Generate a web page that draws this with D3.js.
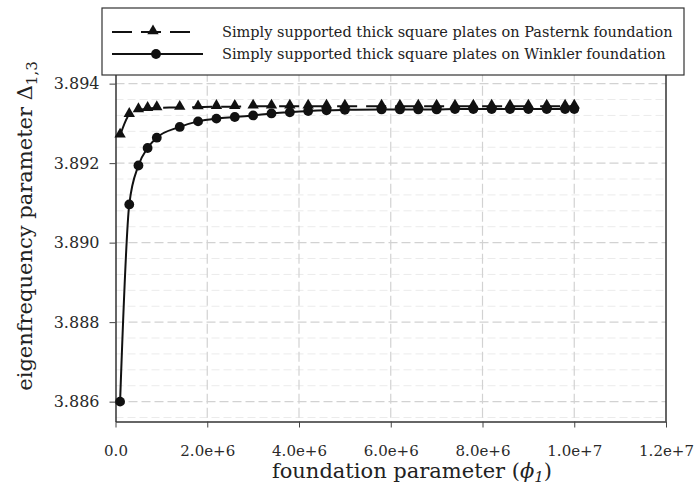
<!DOCTYPE html>
<html>
<head>
<meta charset="utf-8">
<script src="https://cdn.jsdelivr.net/npm/d3@7"></script>
<style>
  body { margin: 0; background: #fff; }
  svg text { font-family: "DejaVu Serif", serif; fill: #222; }
</style>
</head>
<body>
<script>
// foundation parameter values (x) shared by both series
const phiValues = [1e5, 3e5, 5e5, 7e5, 9e5, 1.4e6, 1.8e6, 2.2e6, 2.6e6, 3.0e6, 3.4e6, 3.8e6, 4.2e6,
  4.6e6, 5.0e6, 5.8e6, 6.2e6, 6.6e6, 7.0e6, 7.4e6, 7.8e6, 8.2e6, 8.6e6, 9.0e6, 9.4e6, 9.8e6, 1.0e7];

const pasternak = [3.89270, 3.89322, 3.89334, 3.89337, 3.89339, 3.89340, 3.89341, 3.89342, 3.89342,
  3.89343, 3.89343, 3.89343, 3.89343, 3.89343, 3.89343, 3.89343, 3.89343, 3.89343, 3.89343, 3.89343,
  3.89343, 3.89343, 3.89343, 3.89343, 3.89343, 3.89343, 3.89343];

const winkler = [3.88600, 3.89096, 3.89194, 3.89238, 3.89264, 3.89291, 3.89305, 3.89312, 3.89316,
  3.89320, 3.89325, 3.89328, 3.89331, 3.89333, 3.89334, 3.89335, 3.89335, 3.89335, 3.89335, 3.89336,
  3.89336, 3.89336, 3.89336, 3.89336, 3.89336, 3.89336, 3.89336];

const xTicks = [0, 2e6, 4e6, 6e6, 8e6, 1e7, 1.2e7];
const xTickLabels = ['0.0', '2.0e+6', '4.0e+6', '6.0e+6', '8.0e+6', '1.0e+7', '1.2e+7'];
const yTicks = [3.886, 3.888, 3.890, 3.892, 3.894];
const legendLabels = ['Simply supported thick square plates on Pasternk foundation',
  'Simply supported thick square plates on Winkler foundation'];

var width = 694, height = 490;
var plot = { left: 115.5, right: 666, top: 71.7, bottom: 421.5 };

var svg = d3.select('body').append('svg')
  .attr('width', width)
  .attr('height', height);

var x = d3.scaleLinear().domain([0, 1.2e7]).range([plot.left, plot.right]);
var y = d3.scaleLinear().domain([3.8855, 3.8943]).range([plot.bottom, plot.top]);

// minor horizontal grid every 0.0004
var minor = d3.range(3.8856, 3.8942, 0.0004).filter(function(v) {
  return Math.abs(v * 500 - Math.round(v * 500)) > 1e-6;
});
svg.append('g').selectAll('line')
  .data(minor).enter().append('line')
  .attr('x1', plot.left).attr('x2', plot.right)
  .attr('y1', function(d) { return y(d); }).attr('y2', function(d) { return y(d); })
  .attr('stroke', '#ebebeb').attr('stroke-width', 1).attr('stroke-dasharray', '8,4');

// major grid
svg.append('g').selectAll('line')
  .data(yTicks).enter().append('line')
  .attr('x1', plot.left).attr('x2', plot.right)
  .attr('y1', function(d) { return y(d); }).attr('y2', function(d) { return y(d); })
  .attr('stroke', '#d2d2d2').attr('stroke-width', 1.2).attr('stroke-dasharray', '9,4');

svg.append('g').selectAll('line')
  .data(xTicks.slice(1, -1)).enter().append('line')
  .attr('y1', plot.top).attr('y2', plot.bottom)
  .attr('x1', function(d) { return x(d); }).attr('x2', function(d) { return x(d); })
  .attr('stroke', '#d2d2d2').attr('stroke-width', 1.2).attr('stroke-dasharray', '10,4');

// axes
var xAxis = svg.append('g')
  .attr('transform', 'translate(0,' + plot.bottom + ')')
  .call(d3.axisBottom(x).tickValues(xTicks).tickSize(6).tickSizeOuter(0)
    .tickFormat(function(d, i) { return xTickLabels[i]; }));
xAxis.selectAll('text').style('font-size', '15px').attr('dy', '1.7em').style('fill', '#2a2a2a');

var yAxis = svg.append('g')
  .attr('transform', 'translate(' + plot.left + ',0)')
  .call(d3.axisLeft(y).tickValues(yTicks).tickSize(6).tickSizeOuter(0)
    .tickFormat(d3.format('.3f')));
yAxis.selectAll('text').style('font-size', '16px').attr('x', -16).style('fill', '#2a2a2a');

svg.selectAll('.domain').attr('stroke', '#333').attr('stroke-width', 1.5);
svg.selectAll('.tick line').attr('stroke', '#444');

svg.append('line')
  .attr('x1', plot.right).attr('x2', plot.right)
  .attr('y1', plot.top).attr('y2', plot.bottom)
  .attr('stroke', '#333').attr('stroke-width', 1.5);
svg.append('line')
  .attr('x1', plot.left).attr('x2', plot.right)
  .attr('y1', plot.top).attr('y2', plot.top)
  .attr('stroke', '#333').attr('stroke-width', 1.5);

// series
var pasternakData = phiValues.map(function(v, i) { return [v, pasternak[i]]; });
var winklerData = phiValues.map(function(v, i) { return [v, winkler[i]]; });

var line = d3.line()
  .x(function(d) { return x(d[0]); })
  .y(function(d) { return y(d[1]); })
  .curve(d3.curveMonotoneX);

svg.append('path').datum(winklerData)
  .attr('d', line).attr('fill', 'none')
  .attr('stroke', '#111').attr('stroke-width', 2);

svg.append('path').datum(pasternakData)
  .attr('d', line).attr('fill', 'none')
  .attr('stroke', '#111').attr('stroke-width', 2).attr('stroke-dasharray', '20,9');

var tri = d3.symbol().type(d3.symbolTriangle).size(56);

svg.append('g').selectAll('path')
  .data(pasternakData).enter().append('path')
  .attr('d', tri)
  .attr('transform', function(d) { return 'translate(' + x(d[0]) + ',' + (y(d[1]) - 1) + ')'; })
  .attr('fill', '#111');

svg.append('g').selectAll('circle')
  .data(winklerData).enter().append('circle')
  .attr('cx', function(d) { return x(d[0]); })
  .attr('cy', function(d) { return y(d[1]); })
  .attr('r', 4.9)
  .attr('fill', '#111');

// axis titles
var xTitle = svg.append('text')
  .attr('x', 412).attr('y', 478)
  .attr('text-anchor', 'middle')
  .style('font-size', '21px');
xTitle.append('tspan').text('foundation parameter (');
xTitle.append('tspan').style('font-style', 'italic').text('ϕ');
xTitle.append('tspan').style('font-style', 'italic').style('font-size', '15px').attr('dy', 4).text('1');
xTitle.append('tspan').attr('dy', -4).text(')');

var yTitle = svg.append('text')
  .attr('transform', 'translate(32,226) rotate(-90)')
  .attr('text-anchor', 'middle')
  .style('font-size', '21px');
yTitle.append('tspan').text('eigenfrequency parameter Δ');
yTitle.append('tspan').style('font-size', '15px').attr('dy', 5).text('1,3');

// legend
var legend = svg.append('g');
legend.append('rect')
  .attr('x', 102).attr('y', 8).attr('width', 582).attr('height', 67)
  .attr('fill', '#fff').attr('stroke', '#333').attr('stroke-width', 1.2);

var rows = legend.selectAll('.legend-row')
  .data(legendLabels).enter().append('g')
  .attr('class', 'legend-row')
  .attr('transform', function(d, i) { return 'translate(0,' + (32 + i * 22) + ')'; });

rows.append('line')
  .attr('x1', 112).attr('x2', function(d, i) { return i === 0 ? 193 : 203; })
  .attr('y1', 0).attr('y2', 0)
  .attr('stroke', '#111').attr('stroke-width', 2.2)
  .attr('stroke-dasharray', function(d, i) { return i === 0 ? '20,9' : null; });

rows.filter(function(d, i) { return i === 0; }).append('path')
  .attr('d', tri).attr('transform', 'translate(153,-1)').attr('fill', '#111');
rows.filter(function(d, i) { return i === 1; }).append('circle')
  .attr('cx', 156).attr('cy', 0).attr('r', 4.9).attr('fill', '#111');

rows.append('text')
  .attr('x', 222).attr('y', 5)
  .style('font-size', '14.5px')
  .text(function(d) { return d; });
</script>
</body>
</html>
